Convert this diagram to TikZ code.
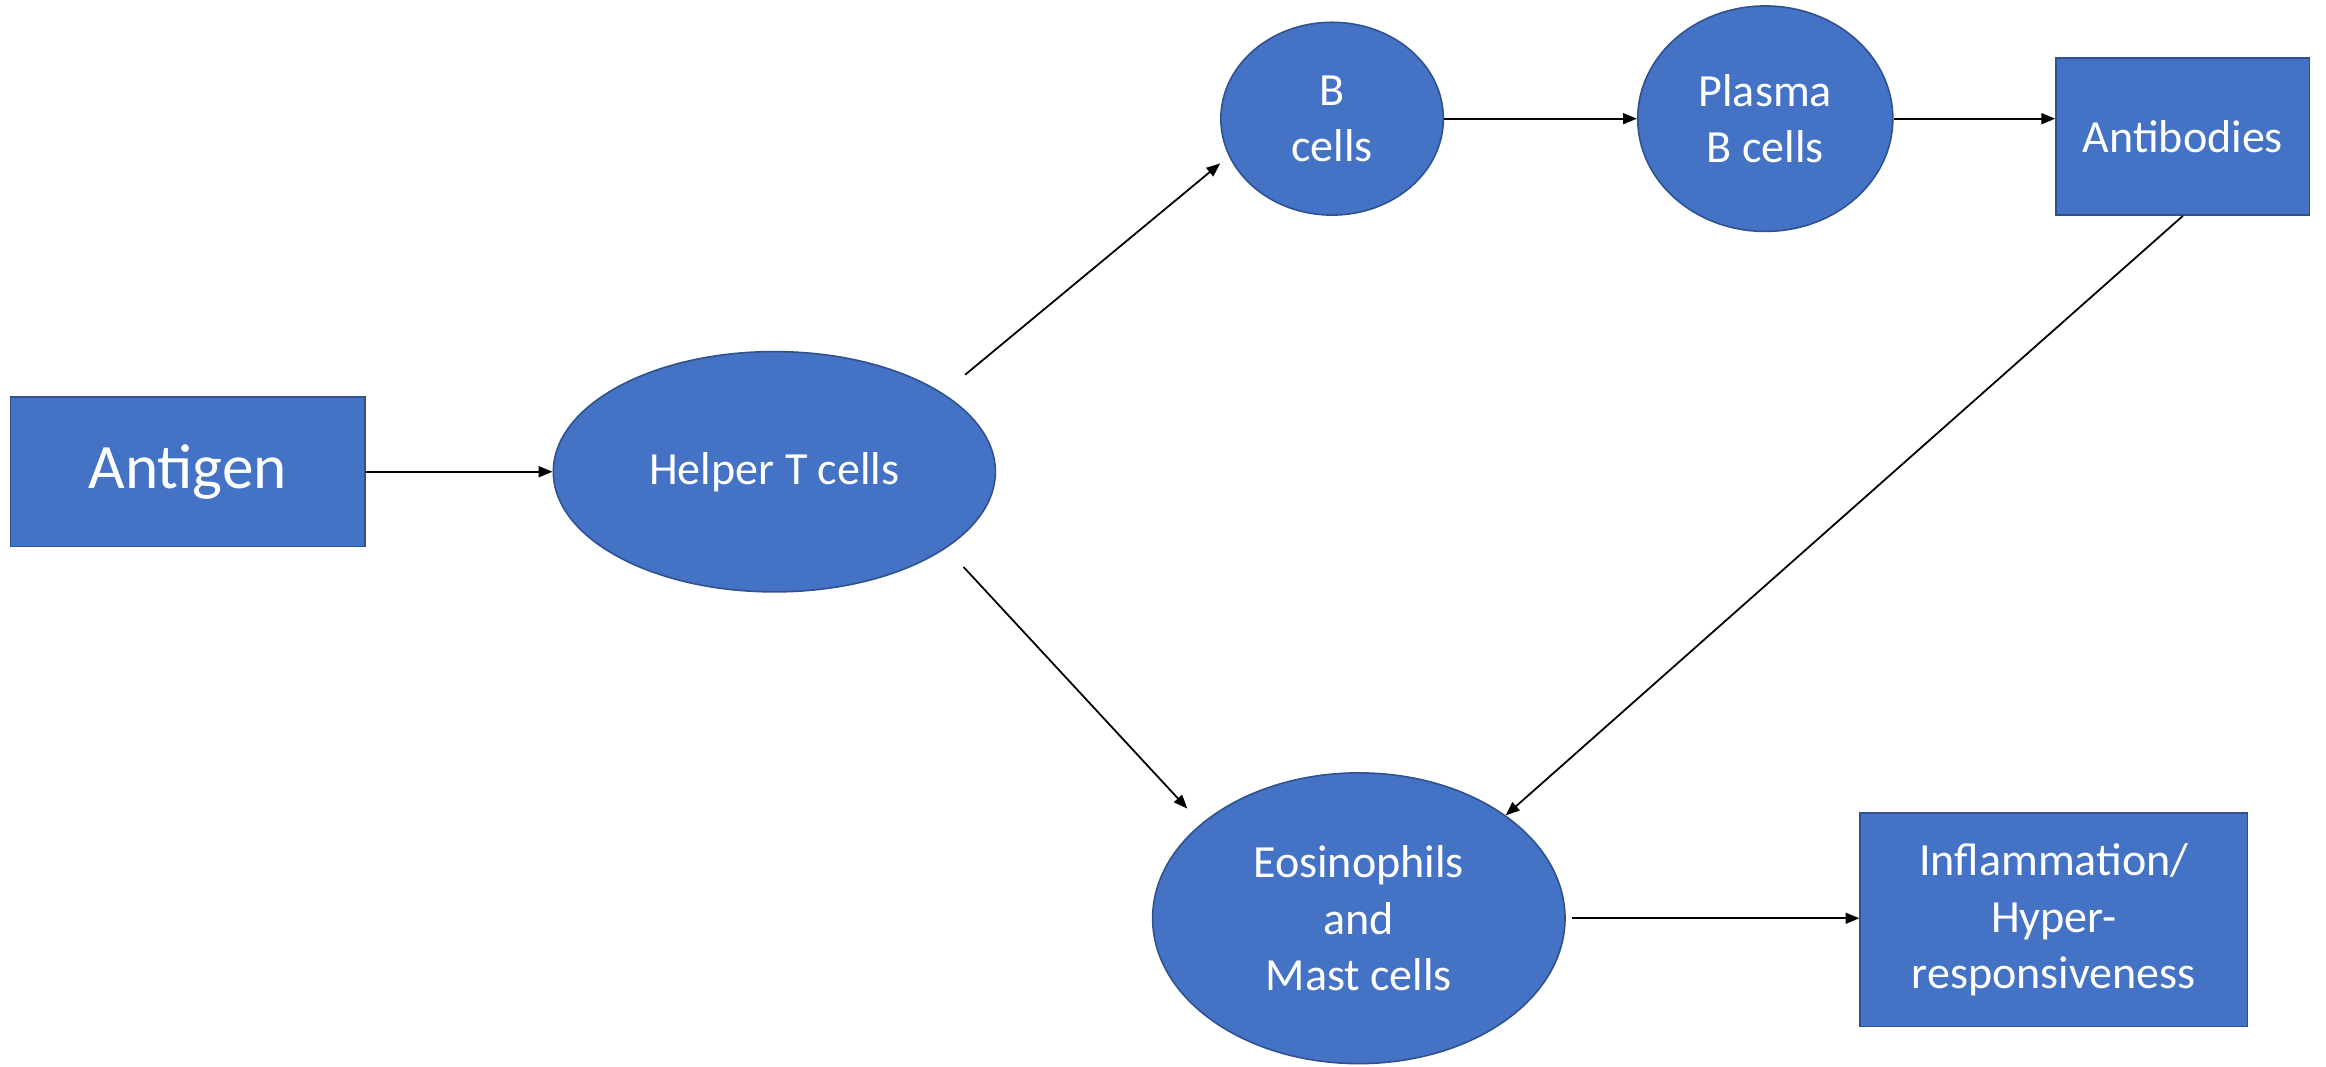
\documentclass[tikz,border=0pt]{standalone}
\usepackage{fontspec}
\setmainfont{Carlito}
\usetikzlibrary{shapes.geometric,arrows.meta,calc}
\definecolor{boxfill}{HTML}{4472C4}
\definecolor{boxline}{HTML}{2F528F}
\begin{document}
\begin{tikzpicture}[x=0.75pt,y=-0.75pt,
  shapebase/.style={fill=boxfill,draw=boxline,line width=0.8pt,text=white,align=center,inner sep=0pt,
    font=\fontsize{23.3}{28.5}\selectfont},
  boxnode/.style={shapebase,rectangle},
  cellnode/.style={shapebase,ellipse},
  arr/.style={draw=black,line width=0.9pt,-{Triangle[length=7pt,width=5.5pt]}}]
\useasboundingbox (0,0) rectangle (1568,719);
\node[boxnode,minimum width=239*0.75pt,minimum height=101*0.75pt,font=\fontsize{32}{38}\selectfont] (antigen) at (126.5,318) {Antigen};
\node[cellnode,minimum width=298*0.75pt,minimum height=162*0.75pt] (helper) at (522,318) {Helper T cells};
\node[cellnode,minimum width=150*0.75pt,minimum height=130*0.75pt] (bcells) at (898,80) {B\\cells};
\node[cellnode,minimum width=172*0.75pt,minimum height=152*0.75pt] (plasma) at (1190,80) {Plasma\\B cells};
\node[boxnode,minimum width=171*0.75pt,minimum height=106*0.75pt] (antibodies) at (1471.5,92) {Antibodies};
\node[cellnode,minimum width=278*0.75pt,minimum height=196*0.75pt] (eos) at (916,619) {Eosinophils\\and\\Mast cells};
\node[boxnode,minimum width=261*0.75pt,minimum height=144*0.75pt] (inflam) at (1384.5,620) {Inflammation/\\Hyper-\\responsiveness};
\draw[arr] (antigen.east) -- (antigen.east -| helper.west);
\draw[arr,shorten <=14.6pt,shorten >=5.6pt] (helper.25.6) -- (bcells.200);
\draw[arr,shorten <=13pt,shorten >=10.3pt] (helper.-24) -- (eos.149.5);
\draw[arr] (bcells.east) -- (plasma.west);
\draw[arr] (plasma.east) -- (plasma.east -| antibodies.west);
\draw[arr] (antibodies.south) -- (eos.35.3);
\draw[arr,shorten <=3pt] (eos.east) -- (eos.east -| inflam.west);
\end{tikzpicture}
\end{document}
